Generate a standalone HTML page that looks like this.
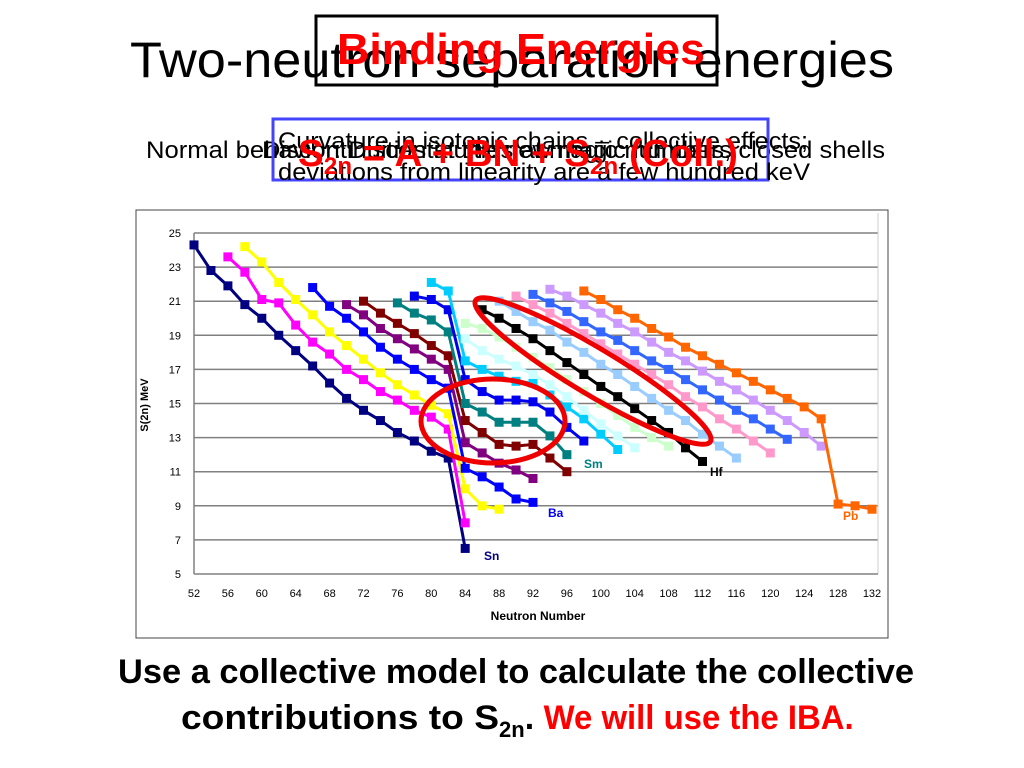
<!DOCTYPE html>
<html><head><meta charset="utf-8"><style>
html,body{margin:0;padding:0;background:#fff;}
svg{display:block;font-family:"Liberation Sans",sans-serif;}
</style></head><body>
<svg id="root" width="1024" height="768" viewBox="0 0 1024 768" xmlns="http://www.w3.org/2000/svg">
<text x="130" y="77" font-size="50" textLength="764" lengthAdjust="spacingAndGlyphs">Two-neutron separation energies</text>
<rect x="316" y="16" width="401" height="69" fill="none" stroke="#000" stroke-width="3"/>
<text x="337" y="64" font-size="44" font-weight="bold" fill="#ff0000" textLength="368" lengthAdjust="spacingAndGlyphs">Binding Energies</text>
<text x="146" y="158" font-size="24" textLength="739" lengthAdjust="spacingAndGlyphs">Normal behavior: Discontinuities at magic numbers, closed shells</text>
<text x="262" y="158" font-size="24" textLength="470" lengthAdjust="spacingAndGlyphs">Discontinuities at the new magic numbers</text>
<rect x="273" y="119" width="495" height="61" fill="none" stroke="#4444ff" stroke-width="3"/>
<text x="278" y="149" font-size="24" textLength="530" lengthAdjust="spacingAndGlyphs">Curvature in isotopic chains – collective effects;</text>
<text x="278" y="180" font-size="24" textLength="532" lengthAdjust="spacingAndGlyphs">deviations from linearity are a few hundred keV</text>
<text x="298" y="166" font-size="38" font-weight="bold" fill="#ff0000" textLength="440" lengthAdjust="spacingAndGlyphs">S<tspan font-size="24" dy="8">2n</tspan><tspan dy="-8"> = A + BN + S</tspan><tspan font-size="24" dy="8">2n</tspan><tspan dy="-8"> (Coll.)</tspan></text>

<rect x="136" y="210" width="752" height="428" fill="#fff" stroke="#444" stroke-width="1"/>
<g id="grid"></g>
<g id="axes"></g>
<g id="series"></g>
<text x="538" y="620" font-size="12" font-weight="bold" text-anchor="middle">Neutron Number</text>
<text transform="translate(148,405) rotate(-90)" font-size="11" font-weight="bold" text-anchor="middle">S(2n) MeV</text>
<text x="484" y="560" font-size="12" font-weight="bold" fill="#000080">Sn</text>
<text x="548" y="517" font-size="12" font-weight="bold" fill="#0000ff">Ba</text>
<text x="584" y="468" font-size="12" font-weight="bold" fill="#008080">Sm</text>
<text x="710" y="476" font-size="12" font-weight="bold" fill="#000">Hf</text>
<text x="843" y="520" font-size="12" font-weight="bold" fill="#ff6600">Pb</text>
<ellipse cx="593" cy="371" rx="137" ry="23" transform="rotate(31 593 371)" fill="none" stroke="#ee0000" stroke-width="5"/>
<ellipse cx="493" cy="421" rx="72" ry="42" fill="none" stroke="#ee0000" stroke-width="5"/>

<text x="118" y="683" font-size="34" font-weight="bold" textLength="796" lengthAdjust="spacingAndGlyphs">Use a collective model to calculate the collective</text>
<text x="181" y="729" font-size="34" font-weight="bold"><tspan textLength="318" lengthAdjust="spacingAndGlyphs">contributions to S</tspan><tspan font-size="22" dy="8">2n</tspan><tspan dy="-8">. </tspan><tspan fill="#ff0000" textLength="310" lengthAdjust="spacingAndGlyphs">We will use the IBA.</tspan></text>
</svg>
<script>
const xTicks = [52,56,60,64,68,72,76,80,84,88,92,96,100,104,108,112,116,120,124,128,132];
const yTicks = [5,7,9,11,13,15,17,19,21,23,25];
const snN = [52,54,56,58,60,62,64,66,68,70,72,74,76,78,80,82,84];
const snV = [24.3,22.8,21.9,20.8,20.0,19.0,18.1,17.2,16.2,15.3,14.6,14.0,13.3,12.8,12.2,11.8,6.5];
const teN = [56,58,60,62,64,66,68,70,72,74,76,78,80,82,84];
const teV = [23.6,22.7,21.1,20.9,19.6,18.6,17.9,17.0,16.4,15.7,15.2,14.6,14.2,13.5,8.0];
const xeN = [58,60,62,64,66,68,70,72,74,76,78,80,82,84,86,88];
const xeV = [24.2,23.3,22.1,21.1,20.2,19.2,18.4,17.6,16.8,16.1,15.5,14.9,14.4,10.0,9.0,8.8];
const baN = [66,68,70,72,74,76,78,80,82,84,86,88,90,92];
const baV = [21.8,20.7,20.0,19.2,18.3,17.6,17.0,16.4,15.9,11.2,10.7,10.1,9.4,9.2];
const ceN = [70,72,74,76,78,80,82,84,86,88,90,92];
const ceV = [20.8,20.2,19.4,18.8,18.2,17.6,17.0,12.7,12.1,11.5,11.1,10.6];
const ndN = [72,74,76,78,80,82,84,86,88,90,92,94,96];
const ndV = [21.0,20.3,19.7,19.1,18.4,17.8,14.0,13.3,12.6,12.5,12.6,11.8,11.0];
const smN = [76,78,80,82,84,86,88,90,92,94,96];
const smV = [20.9,20.3,19.9,19.2,15.0,14.5,13.9,13.9,13.9,13.1,12.0];
const gdN = [78,80,82,84,86,88,90,92,94,96,98];
const gdV = [21.3,21.1,20.5,16.4,15.7,15.2,15.2,15.1,14.5,13.6,12.8];
const dyN = [80,82,84,86,88,90,92,94,96,98,100,102];
const dyV = [22.1,21.6,17.5,17.0,16.6,16.3,16.2,15.5,14.8,14.1,13.2,12.3];
const erN = [84,86,88,90,92,94,96,98,100,102,104];
const erV = [18.8,18.1,17.6,17.2,16.7,16.1,15.4,14.6,13.8,13.1,12.4];
const ybN = [84,86,88,90,92,94,96,98,100,102,104,106,108];
const ybV = [19.7,19.4,18.9,18.3,17.7,17.1,16.4,15.7,15.0,14.3,13.6,13.0,12.5];
const hfN = [86,88,90,92,94,96,98,100,102,104,106,108,110,112];
const hfV = [20.5,20.0,19.4,18.8,18.1,17.4,16.7,16.0,15.4,14.7,14.0,13.3,12.4,11.6];
const wN = [88,90,92,94,96,98,100,102,104,106,108,110,112,114,116];
const wV = [21.0,20.4,19.8,19.3,18.6,18.0,17.3,16.7,16.0,15.3,14.6,14.0,13.2,12.5,11.8];
const osN = [90,92,94,96,98,100,102,104,106,108,110,112,114,116,118,120];
const osV = [21.3,20.8,20.3,19.7,19.1,18.5,17.9,17.3,16.7,16.1,15.4,14.8,14.1,13.5,12.8,12.1];
const ptN = [92,94,96,98,100,102,104,106,108,110,112,114,116,118,120,122];
const ptV = [21.4,20.9,20.4,19.8,19.2,18.7,18.1,17.5,17.0,16.4,15.8,15.2,14.6,14.1,13.5,12.9];
const hgN = [94,96,98,100,102,104,106,108,110,112,114,116,118,120,122,124,126];
const hgV = [21.7,21.3,20.8,20.3,19.7,19.2,18.6,18.0,17.5,16.9,16.3,15.8,15.2,14.6,14.0,13.3,12.5];
const pbN = [98,100,102,104,106,108,110,112,114,116,118,120,122,124,126,128,130,132];
const pbV = [21.6,21.1,20.5,20.0,19.4,18.9,18.3,17.8,17.3,16.8,16.3,15.8,15.3,14.8,14.1,9.1,9.0,8.8];
const seriesList = [
 ['sn',snN,snV,'#000080'],['te',teN,teV,'#ff00ff'],['xe',xeN,xeV,'#ffff00'],['ba',baN,baV,'#0000ff'],
 ['ce',ceN,ceV,'#800080'],['nd',ndN,ndV,'#800000'],['sm',smN,smV,'#008080'],['gd',gdN,gdV,'#0000ee'],
 ['dy',dyN,dyV,'#00ccff'],['er',erN,erV,'#ccffff'],['yb',ybN,ybV,'#ccffcc'],['hf',hfN,hfV,'#000000'],
 ['w',wN,wV,'#99ccff'],['os',osN,osV,'#ff99cc'],['pt',ptN,ptV,'#3366ff'],['hg',hgN,hgV,'#cc99ff'],['pb',pbN,pbV,'#ff6600']];
const NS='http://www.w3.org/2000/svg';
const X0=194,X1=872,Y0=574,Y1=233;
function xs(n){return X0+(n-52)/(132-52)*(X1-X0);}
function ys(v){return Y0-(v-5)/(25-5)*(Y0-Y1);}
function mk(tag,attrs,parent){const e=document.createElementNS(NS,tag);for(const k in attrs)e.setAttribute(k,attrs[k]);parent.appendChild(e);return e;}
const grid=document.getElementById('grid'),axes=document.getElementById('axes'),sg=document.getElementById('series');
yTicks.forEach(t=>{
 if(t>5){const l=mk('line',{x1:X0,x2:878,y1:ys(t),y2:ys(t),stroke:'#808080','stroke-width':1.5},grid);
 
 }
 const tx=mk('text',{x:181,y:ys(t)+4,'font-size':11,'text-anchor':'end'},axes);tx.textContent=t;
 
 
});
mk('line',{x1:878,x2:878,y1:Y1-20,y2:Y0,stroke:'#ccc'},axes);
const ya=mk('line',{x1:X0,x2:X0,y1:Y1,y2:Y0,stroke:'#808080','stroke-width':1.5},axes);


const xa=mk('line',{x1:X0,x2:878,y1:Y0,y2:Y0,stroke:'#808080','stroke-width':1.5},axes);


xTicks.forEach(t=>{
 const tx=mk('text',{x:xs(t),y:597,'font-size':11,'text-anchor':'middle'},axes);tx.textContent=t;
 
 
});
seriesList.forEach(s=>{
 const [name,N,V,c]=s;
 const g=mk('g',{},sg);
 
 
 const p=mk('polyline',{points:N.map((n,i)=>xs(n)+','+ys(V[i])).join(' '),fill:'none',stroke:c,'stroke-width':3},g);
 
 
 N.forEach((n,i)=>{
  const r=mk('rect',{x:xs(n)-4.5,y:ys(V[i])-4.5,width:9,height:9,fill:c},g);
  
  
 });
});
</script>
</body></html>
